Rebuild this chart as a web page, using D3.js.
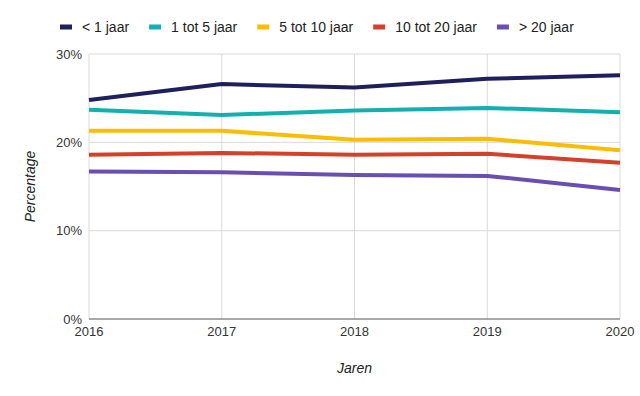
<!DOCTYPE html>
<meta charset="utf-8">
<style>
  body { margin: 0; background: #fff; }
  text { font-family: "Liberation Sans", Arial, sans-serif; }
</style>
<script src="https://cdn.jsdelivr.net/npm/d3@7"></script>
<div id="chart"></div>
<script>
// data
const years = [2016, 2017, 2018, 2019, 2020];
const seriesNames = ["< 1 jaar", "1 tot 5 jaar", "5 tot 10 jaar", "10 tot 20 jaar", "> 20 jaar"];
const lt1 = [24.8, 26.6, 26.2, 27.2, 27.6];
const y1to5 = [23.7, 23.1, 23.6, 23.9, 23.4];
const y5to10 = [21.3, 21.3, 20.3, 20.4, 19.1];
const y10to20 = [18.6, 18.8, 18.6, 18.7, 17.7];
const gt20 = [16.7, 16.6, 16.3, 16.2, 14.6];
const yTicks = [0, 10, 20, 30];
const colors = ["#1f1f5b", "#12b0ae", "#fbbc04", "#d3412a", "#6a4eb0"];

const allSeries = [lt1, y1to5, y5to10, y10to20, gt20];

const W = 640, H = 396;
const margin = {top: 54, right: 20, bottom: 77, left: 89};
const width = W - margin.left - margin.right;
const height = H - margin.top - margin.bottom;

const svg = d3.select("#chart").append("svg")
    .attr("width", W)
    .attr("height", H);

const g = svg.append("g")
    .attr("transform", `translate(${margin.left},${margin.top})`);

const x = d3.scaleLinear().domain(d3.extent(years)).range([0, width]);
const y = d3.scaleLinear().domain([0, 30]).range([height, 0]);

// gridlines
g.append("g").selectAll("line").data(yTicks.filter(d => d > 0)).enter()
  .append("line")
    .attr("x1", 0).attr("x2", width)
    .attr("y1", d => y(d)).attr("y2", d => y(d))
    .attr("stroke", "#d9d9d9").attr("stroke-width", 1);
g.append("g").selectAll("line").data(years).enter()
  .append("line")
    .attr("x1", d => x(d)).attr("x2", d => x(d))
    .attr("y1", 0).attr("y2", height)
    .attr("stroke", "#d9d9d9").attr("stroke-width", 1);

// y labels
g.append("g").selectAll("text").data(yTicks).enter()
  .append("text")
    .attr("x", -7)
    .attr("y", d => y(d))
    .attr("dy", "0.35em")
    .attr("text-anchor", "end")
    .attr("font-size", 13)
    .attr("fill", "#333")
    .text(d => d + "%");

// x labels
g.append("g").selectAll("text").data(years).enter()
  .append("text")
    .attr("x", d => x(d))
    .attr("y", height + 12)
    .attr("dy", "0.35em")
    .attr("text-anchor", "middle")
    .attr("font-size", 13)
    .attr("fill", "#333")
    .text(d => d);

// baseline
g.append("line")
    .attr("x1", 0).attr("x2", width)
    .attr("y1", y(0)).attr("y2", y(0))
    .attr("stroke", "#555").attr("stroke-width", 1.2);

// lines
const line = d3.line()
    .x((d, i) => x(years[i]))
    .y(d => y(d));

g.selectAll("path.series").data(allSeries).enter()
  .append("path")
    .attr("class", "series")
    .attr("fill", "none")
    .attr("stroke", (d, i) => colors[i])
    .attr("stroke-width", 4)
    .attr("stroke-linejoin", "round")
    .attr("d", line);

// axis titles
svg.append("text")
    .attr("x", margin.left + width / 2)
    .attr("y", 368)
    .attr("dy", "0.35em")
    .attr("text-anchor", "middle")
    .attr("font-size", 14)
    .attr("font-style", "italic")
    .attr("fill", "#222")
    .text("Jaren");

svg.append("text")
    .attr("transform", `translate(30,${margin.top + height / 2}) rotate(-90)`)
    .attr("dy", "0.35em")
    .attr("text-anchor", "middle")
    .attr("font-size", 14)
    .attr("font-style", "italic")
    .attr("fill", "#222")
    .text("Percentage");

// legend
const legend = svg.append("g").attr("transform", "translate(60,27)");
let lx = 0;
seriesNames.forEach((name, i) => {
  const item = legend.append("g").attr("transform", `translate(${lx},0)`);
  item.append("rect")
      .attr("x", 0).attr("y", -2.5)
      .attr("width", 12).attr("height", 5)
      .attr("fill", colors[i]);
  const t = item.append("text")
      .attr("x", 22)
      .attr("dy", "0.35em")
      .attr("font-size", 14)
      .attr("fill", "#222")
      .text(name);
  lx += 22 + t.node().getComputedTextLength() + 20;
});
</script>
